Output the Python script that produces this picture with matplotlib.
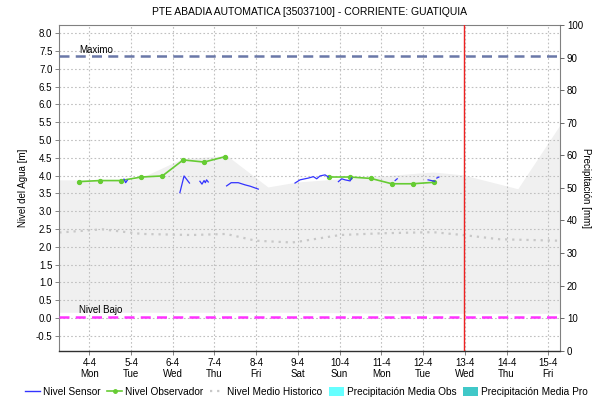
import numpy as np
import matplotlib
matplotlib.use('Agg')
import matplotlib.pyplot as plt
from matplotlib.lines import Line2D
from matplotlib.patches import Patch

plt.rcParams['font.family'] = ['Liberation Sans', 'DejaVu Sans']

# ---- datos ----
dias = ['4-4\nMon', '5-4\nTue', '6-4\nWed', '7-4\nThu', '8-4\nFri', '9-4\nSat',
        '10-4\nSun', '11-4\nMon', '12-4\nTue', '13-4\nWed', '14-4\nThu', '15-4\nFri']

# nivel observador (dias desde 4-4), NaN = sin dato
obs_dia = [-0.25, 0.25, 0.75, 1.25, 1.75, 2.25, 2.75, 3.25, 4.5,
           5.75, 6.25, 6.75, 7.25, 7.75, 8.25]
obs_nivel = [3.83, 3.86, 3.86, 3.96, 3.99, 4.44, 4.38, 4.53, np.nan,
             3.96, 3.96, 3.92, 3.77, 3.77, 3.81]

# nivel sensor, tramos separados por NaN
sensor_dia = [0.83, 0.87, 0.91, np.nan,
              2.17, 2.27, 2.40, np.nan,
              2.65, 2.70, 2.75, 2.78, 2.81, 2.85, np.nan,
              3.29, 3.40, 3.57, 3.73, 3.86, 4.05, np.nan,
              4.93, 5.05, 5.25, 5.37, 5.45, 5.53, 5.65, 5.73, np.nan,
              5.97, 6.05, 6.13, 6.25, 6.29, np.nan,
              7.33, 7.38, np.nan,
              8.12, 8.20, 8.28, np.nan,
              8.33, 8.38]
sensor_nivel = [3.90, 3.80, 3.87, np.nan,
                3.52, 3.99, 3.79, np.nan,
                3.84, 3.76, 3.86, 3.80, 3.88, 3.82, np.nan,
                3.71, 3.80, 3.80, 3.74, 3.70, 3.62, np.nan,
                3.79, 3.88, 3.93, 3.97, 3.91, 3.99, 4.02, 3.96, np.nan,
                3.83, 3.91, 3.88, 3.85, 3.93, np.nan,
                3.86, 3.91, np.nan,
                3.88, 3.86, 3.84, np.nan,
                3.93, 3.96]

# nivel medio historico
hist_dia = [-0.72, 0.31, 1.26, 2.46, 3.28, 3.99, 4.86, 5.05, 6.01,
            7.04, 8.24, 8.96, 9.84, 11.28]
hist_nivel = [2.40, 2.49, 2.36, 2.33, 2.36, 2.17, 2.12, 2.15, 2.33,
              2.38, 2.41, 2.33, 2.21, 2.17]

# envolvente (banda gris)
env_dia = [-0.72, 0.98, 1.24, 2.22, 3.3, 4.28, 4.98, 7.33, 8.24, 8.96, 10.27, 11.28]
env_sup = [3.88, 3.88, 3.94, 4.47, 4.56, 3.68, 3.82, 4.02, 4.10, 4.02, 3.63, 5.42]
env_inf = [0.16, 0.16, 0.16, 0.16, 0.16, 0.16, 0.16, 0.13, 0.13, 0.13, 0.13, 0.13]

nivel_maximo = 7.35
nivel_bajo = 0.03
dia_actual = 8.97

# ---- grafica ----
fig = plt.figure(figsize=(5.95, 4.04), dpi=100)
ax = fig.add_axes([0.0997, 0.132, 0.8413, 0.806])

ax.fill_between(env_dia, env_inf, env_sup, color='#f0f0f0', lw=0, zorder=0)
ax.plot(hist_dia, hist_nivel, color='#c8c8c8', lw=1.6, ls=(0, (1, 2.2)), zorder=2)
ax.axhline(nivel_maximo, color='#6a78a8', lw=1.8, ls=(0, (4, 2.5)), zorder=3)
ax.axhline(nivel_bajo, color='#ff33ff', lw=1.8, ls=(0, (4, 2.5)), zorder=3)
ax.text(-0.24, nivel_maximo + 0.04, 'Maximo', fontsize=7, va='bottom', ha='left')
ax.text(-0.24, nivel_bajo + 0.04, 'Nivel Bajo', fontsize=7, va='bottom', ha='left')
ax.plot(obs_dia, obs_nivel, color='#66cc33', lw=1.2, marker='o', ms=2.8, zorder=4)
ax.plot(sensor_dia, sensor_nivel, color='#3333ff', lw=0.9, zorder=5)
ax.axvline(dia_actual, color='#ee2222', lw=1.0, zorder=6)

ax.set_xlim(-0.72, 11.28)
ax.set_ylim(-0.92, 8.23)
ax.set_xticks(range(len(dias)))
ax.set_xticklabels(dias, fontsize=7, linespacing=1.2)
ax.set_yticks(np.arange(-0.5, 8.01, 0.5))
ax.set_yticklabels(['%.1f' % v for v in np.arange(-0.5, 8.01, 0.5)], fontsize=7)
ax.grid(True, color='#c0c0c0', ls=(0, (1.5, 2)), lw=0.8)
ax.tick_params(length=3, width=0.6, color='#707070', pad=2)
ax.set_ylabel('Nivel del Agua [m]', fontsize=7)
ax.yaxis.set_label_coords(-0.062, 0.5)
for s in ['left', 'top', 'right']:
    ax.spines[s].set_color('#808080')
    ax.spines[s].set_linewidth(0.8)
ax.spines['bottom'].set_color('#303030')
ax.spines['bottom'].set_linestyle((0, (1, 1)))
ax.spines['bottom'].set_linewidth(1.0)

ax2 = ax.twinx()
ax2.set_ylim(0, 100)
ax2.set_yticks(range(0, 101, 10))
ax2.tick_params(labelsize=7, length=3, width=0.6, color='#505050', pad=2)
ax2.set_ylabel('Precipitación [mm]', fontsize=7, rotation=270, va='center')
ax2.yaxis.set_label_coords(1.053, 0.5)
for s in ax2.spines.values():
    s.set_visible(False)

ax.set_title('PTE ABADIA AUTOMATICA [35037100] - CORRIENTE: GUATIQUIA',
             fontsize=7.5, pad=7)

handles = [
    Line2D([], [], color='#3333ff', lw=1.0),
    Line2D([], [], color='#66cc33', lw=1.2, marker='o', ms=2.5),
    Line2D([], [], color='#c8c8c8', lw=1.6, ls=(0, (1, 2.2))),
    Patch(facecolor='#66ffff', edgecolor='none'),
    Patch(facecolor='#40c8c8', edgecolor='none'),
]
labels = ['Nivel Sensor', 'Nivel Observador', 'Nivel Medio Historico',
          'Precipitación Media Obs', 'Precipitación Media Pro']
fig.legend(handles, labels, loc='lower center', bbox_to_anchor=(0.515, -0.005),
           ncol=5, frameon=False, fontsize=7.3, handlelength=1.4,
           handletextpad=0.3, columnspacing=0.7, handleheight=0.9)

fig.savefig('out.png', dpi=100)
